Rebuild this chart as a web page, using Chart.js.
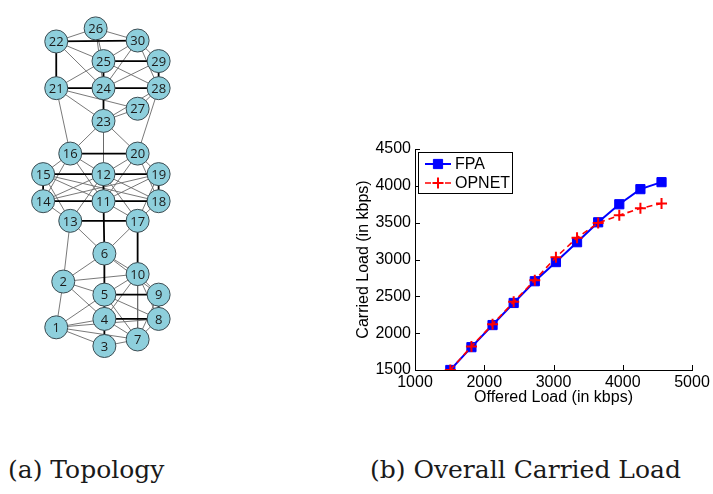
<!DOCTYPE html>
<html>
<head>
<meta charset="utf-8">
<script src="https://cdn.jsdelivr.net/npm/chart.js@4.4.1/dist/chart.umd.min.js"></script>
<style>
  body { margin: 0; background: #fff; width: 713px; height: 494px; position: relative; overflow: hidden; }
  #topologyChart { position: absolute; left: 0; top: 0; }
  #loadChart { position: absolute; left: 340px; top: 130px; }
  .caption { position: absolute; top: 455px; font-family: "DejaVu Serif", serif; font-size: 25px; line-height: 30px; color: #1a1a1a; white-space: nowrap; }
</style>
</head>
<body>
<canvas id="topologyChart" width="200" height="380"></canvas>
<canvas id="loadChart" width="373" height="300"></canvas>
<div class="caption" style="left:8px">(a) Topology</div>
<div class="caption" style="left:370px">(b) Overall Carried Load</div>

<script>
// Network layout: node ids and their positions in the drawing grid
const nodeIds = [1, 2, 3, 4, 5, 6, 7, 8, 9, 10, 11, 12, 13, 14, 15, 16, 17, 18, 19, 20, 21, 22, 23, 24, 25, 26, 27, 28, 29, 30];
const nodeX = [50, 58, 105, 105, 105, 105, 143, 167, 167, 143, 104, 104, 66, 35, 35, 66, 143, 167, 167, 143, 50, 50, 104, 104, 104, 95, 143, 167, 167, 143];
const nodeY = [337, 288, 357, 328, 302, 258, 350, 328, 302, 280, 202, 173, 223, 202, 173, 151, 223, 202, 173, 151, 81, 31, 116, 81, 52, 17, 103, 81, 52, 30];

// Backbone links (bold) and regular links (thin)
const thickEdges = [
  [22, 30], [22, 21], [21, 24], [24, 28], [25, 29], [29, 28], [25, 24], [24, 23],
  [16, 20], [15, 12], [12, 19], [15, 14], [19, 18], [14, 11], [11, 18], [12, 11], [13, 17], [11, 6], [17, 10],
  [6, 5], [5, 9], [9, 8], [5, 4], [4, 8], [4, 3]
];
const thinEdges = [
  [22, 26], [26, 30], [26, 25], [26, 24], [30, 29], [30, 25], [30, 24], [30, 28], [22, 25], [22, 24],
  [21, 25], [21, 23], [21, 27], [21, 16], [25, 28], [24, 29], [28, 27], [27, 23], [28, 23], [23, 16],
  [24, 12], [23, 20], [28, 20],
  [16, 15], [16, 14], [16, 12], [16, 11], [20, 12], [20, 11], [20, 19], [20, 18], [15, 11], [15, 18],
  [15, 13], [14, 12], [14, 19], [14, 13], [13, 12], [12, 17], [12, 18], [11, 19], [11, 17], [19, 17],
  [18, 17], [13, 6], [17, 6], [13, 2],
  [6, 2], [6, 10], [6, 9], [2, 10], [2, 5], [2, 4], [2, 1], [1, 5], [1, 4], [1, 7], [1, 8], [1, 3],
  [5, 10], [5, 8], [5, 7], [4, 10], [4, 7], [10, 9], [10, 7], [10, 8], [9, 7], [8, 7], [3, 7]
];

// Carried load measurements
const offeredLoad = [1510, 1815, 2120, 2425, 2730, 3035, 3340, 3645, 3950, 4255, 4560];
const fpaLoad = [1500, 1810, 2110, 2410, 2705, 2965, 3235, 3505, 3750, 3955, 4050];
const opnetLoad = [1500, 1820, 2120, 2425, 2720, 3030, 3295, 3495, 3600, 3695, 3760];
const xTicks = [1000, 2000, 3000, 4000, 5000];
const yTicks = [1500, 2000, 2500, 3000, 3500, 4000, 4500];

// turn a list of [a, b] links into one polyline broken by gaps
function edgePoints(list) {
  const pts = [];
  list.forEach(([a, b]) => {
    pts.push({ x: nodeX[a - 1], y: nodeY[a - 1] });
    pts.push({ x: nodeX[b - 1], y: nodeY[b - 1] });
    pts.push({ x: nodeX[b - 1], y: null });
  });
  return pts;
}

const nodeLabels = {
  id: 'nodeLabels',
  afterDatasetsDraw(chart) {
    const ctx = chart.ctx;
    const meta = chart.getDatasetMeta(0);
    ctx.save();
    ctx.font = '13px "Open Sans", sans-serif';
    ctx.fillStyle = '#1b1b1b';
    ctx.textAlign = 'center';
    ctx.textBaseline = 'middle';
    meta.data.forEach((pt, i) => ctx.fillText(String(nodeIds[i]), pt.x, pt.y + 1));
    ctx.restore();
  }
};

new Chart(document.getElementById('topologyChart'), {
  type: 'scatter',
  data: {
    datasets: [
      {
        data: nodeX.map((x, i) => ({ x: x, y: nodeY[i] })),
        pointRadius: 11.5,
        pointBackgroundColor: '#8ecfdc',
        pointBorderColor: '#3c4c52',
        pointBorderWidth: 1
      },
      {
        data: edgePoints(thickEdges),
        showLine: true,
        spanGaps: false,
        borderColor: '#000',
        borderWidth: 1.8,
        pointRadius: 0
      },
      {
        data: edgePoints(thinEdges),
        showLine: true,
        spanGaps: false,
        borderColor: '#6a6a6a',
        borderWidth: 0.9,
        pointRadius: 0
      }
    ]
  },
  options: {
    responsive: false,
    animation: false,
    layout: { padding: 0 },
    plugins: { legend: { display: false }, tooltip: { enabled: false } },
    scales: {
      x: { type: 'linear', min: 0, max: 200, display: false },
      y: { type: 'linear', min: 0, max: 380, reverse: true, display: false }
    }
  },
  plugins: [nodeLabels]
});

// MATLAB-style tick marks pointing into the plot
const innerTicks = {
  id: 'innerTicks',
  afterDraw(chart) {
    const { ctx, chartArea, scales } = chart;
    ctx.save();
    ctx.strokeStyle = '#000';
    ctx.lineWidth = 1;
    ctx.beginPath();
    scales.x.ticks.forEach(t => {
      const px = Math.round(scales.x.getPixelForValue(t.value)) + 0.5;
      ctx.moveTo(px, chartArea.bottom);
      ctx.lineTo(px, chartArea.bottom - 5);
    });
    scales.y.ticks.forEach(t => {
      const py = Math.round(scales.y.getPixelForValue(t.value)) + 0.5;
      ctx.moveTo(chartArea.left, py);
      ctx.lineTo(chartArea.left + 5, py);
    });
    ctx.stroke();
    ctx.restore();
  }
};

// boxed legend in the upper-left corner of the plot
const boxLegend = {
  id: 'boxLegend',
  afterDraw(chart) {
    const { ctx, chartArea } = chart;
    const left = chartArea.left + 3;
    const top = chartArea.top + 3;
    ctx.save();
    ctx.fillStyle = '#fff';
    ctx.fillRect(left, top, 94, 41);
    ctx.strokeStyle = '#000';
    ctx.lineWidth = 1;
    ctx.strokeRect(left + 0.5, top + 0.5, 94, 41);
    chart.data.datasets.forEach((ds, i) => {
      const y = top + 12 + i * 19;
      ctx.strokeStyle = ds.borderColor;
      ctx.lineWidth = ds.borderWidth;
      ctx.setLineDash(ds.borderDash || []);
      ctx.beginPath();
      ctx.moveTo(left + 7, y);
      ctx.lineTo(left + 33, y);
      ctx.stroke();
      ctx.setLineDash([]);
      ctx.fillStyle = ds.pointBackgroundColor;
      ctx.strokeStyle = ds.pointBorderColor;
      ctx.lineWidth = ds.pointBorderWidth;
      Chart.helpers.drawPoint(ctx, { pointStyle: ds.pointStyle, radius: ds.pointRadius, borderWidth: ds.pointBorderWidth }, left + 20, y);
      ctx.fillStyle = '#000';
      ctx.font = '16px "Liberation Sans", Arial, sans-serif';
      ctx.textBaseline = 'middle';
      ctx.fillText(ds.label, left + 37, y + 1);
    });
    ctx.restore();
  }
};

const tickFont = { family: '"Liberation Sans", Arial, sans-serif', size: 16 };

new Chart(document.getElementById('loadChart'), {
  type: 'line',
  data: {
    datasets: [
      {
        label: 'FPA',
        data: offeredLoad.map((x, i) => ({ x: x, y: fpaLoad[i] })),
        borderColor: '#0000ff',
        borderWidth: 2,
        pointStyle: 'rect',
        pointRadius: 6.5,
        pointBackgroundColor: '#0000ff',
        pointBorderColor: '#0000ff',
        pointBorderWidth: 1,
        order: 1
      },
      {
        label: 'OPNET',
        data: offeredLoad.map((x, i) => ({ x: x, y: opnetLoad[i] })),
        borderColor: '#ff0000',
        borderWidth: 1.6,
        borderDash: [6, 4],
        pointStyle: 'cross',
        pointRadius: 5.5,
        pointBackgroundColor: '#ff0000',
        pointBorderColor: '#ff0000',
        pointBorderWidth: 2,
        order: 0
      }
    ]
  },
  options: {
    responsive: false,
    animation: false,
    layout: { padding: { top: 19, right: 21, left: 0, bottom: 0 } },
    plugins: { legend: { display: false }, tooltip: { enabled: false } },
    scales: {
      x: {
        type: 'linear',
        min: 1000,
        max: 5000,
        afterBuildTicks: s => { s.ticks = xTicks.map(v => ({ value: v })); },
        afterFit: s => { s.height = 60; },
        grid: { display: false, drawTicks: false },
        border: { display: true, color: '#000', width: 1 },
        ticks: { font: tickFont, color: '#000', padding: 3, maxRotation: 0, callback: v => String(v) },
        title: { display: true, text: 'Offered Load (in kbps)', font: tickFont, color: '#000', padding: { top: 0, bottom: 23 } }
      },
      y: {
        type: 'linear',
        min: 1500,
        max: 4500,
        afterBuildTicks: s => { s.ticks = yTicks.map(v => ({ value: v })); },
        afterFit: s => { s.width = 75; },
        grid: { display: false, drawTicks: false },
        border: { display: true, color: '#000', width: 1 },
        ticks: { font: tickFont, color: '#000', padding: 4, callback: v => String(v) },
        title: { display: true, text: 'Carried Load (in kbps)', font: tickFont, color: '#000', padding: { top: 14, bottom: 0 } }
      }
    }
  },
  plugins: [innerTicks, boxLegend]
});
</script>
</body>
</html>
